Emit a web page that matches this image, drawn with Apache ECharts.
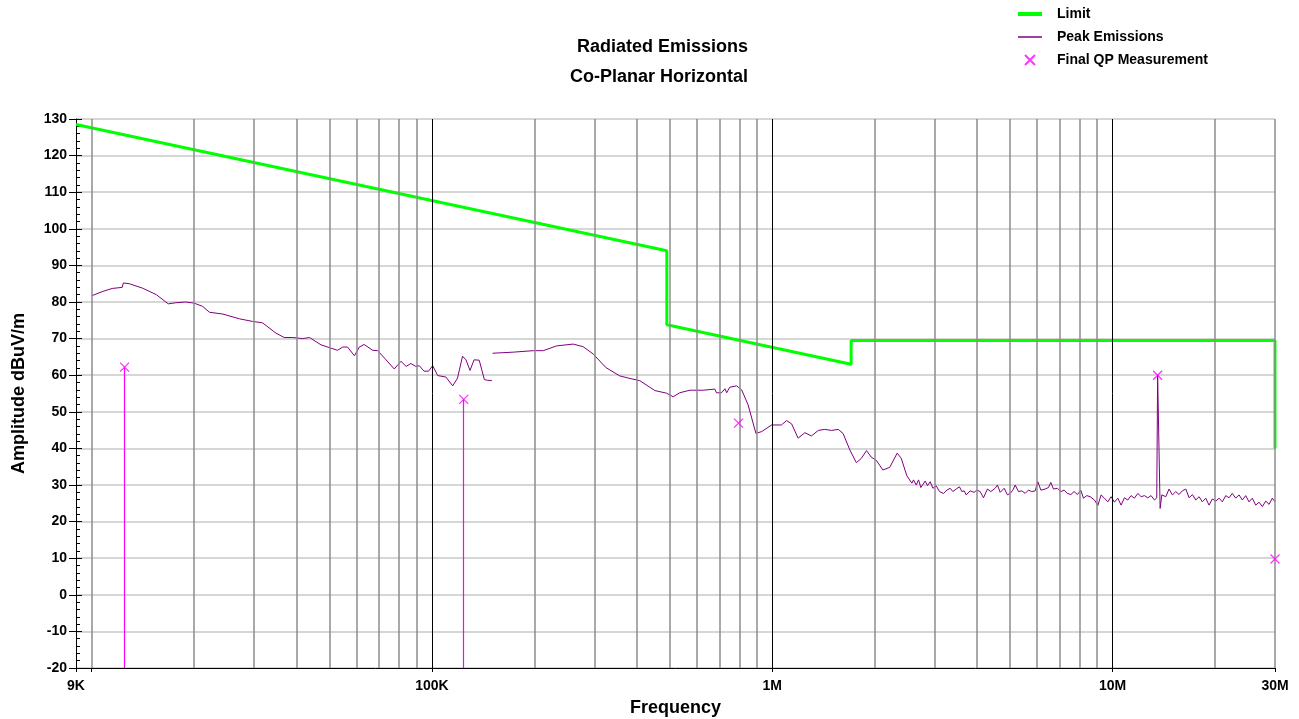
<!DOCTYPE html>
<html>
<head>
<meta charset="utf-8">
<title>Radiated Emissions</title>
<script src="https://cdn.jsdelivr.net/npm/echarts@6/dist/echarts.min.js"></script>
<style>
    html, body { margin: 0; padding: 0; background: #fff; }
    #chart { width: 1299px; height: 719px; }
</style>
</head>
<body>
<div id="chart"></div>
<script>
// frequencies in kHz, amplitudes in dBuV/m
const limitFreq = [9, 490, 490, 1705, 1705, 30000, 30000];
const limitAmp = [128.5, 94.0, 73.8, 63.0, 69.5, 69.5, 40.0];

// first scan 10K - 150K
const scan1 = [
    [10.0, 81.7], [10.8, 82.9], [11.5, 83.7], [12.3, 84.0], [12.4, 85.2], [12.9, 85.0], [14.1, 83.8],
    [15.5, 82.0], [16.8, 79.5], [17.7, 79.8], [18.9, 80.0], [20.0, 79.7], [21.2, 78.8], [22.2, 77.2],
    [24.3, 76.7], [27.2, 75.4], [29.7, 74.7], [31.8, 74.3], [34.8, 71.5], [36.8, 70.3], [39.0, 70.3],
    [41.7, 70.0], [43.7, 70.3], [47.2, 68.3], [50.5, 67.4], [52.8, 66.8], [54.7, 67.7], [56.5, 67.7],
    [59.2, 65.3], [61.2, 67.7], [63.2, 68.4], [67.0, 66.8], [69.3, 66.7], [73.3, 64.2], [77.5, 61.7],
    [81.1, 63.8], [84.0, 62.4], [86.7, 63.2], [89.7, 62.4], [91.8, 62.6], [94.8, 61.1], [97.7, 61.1],
    [100.5, 62.6], [104.0, 59.9], [109.9, 59.5], [115.1, 57.1], [118.9, 59.2], [123.0, 65.2], [125.9, 64.2],
    [129.4, 61.3], [133.0, 64.2], [137.7, 64.1], [142.6, 58.8], [145.9, 58.6], [150.0, 58.5]
];

// second scan 150K - 30M
const scan2 = [
    [150.7, 66.0], [173.4, 66.3], [198.4, 66.7], [212.3, 66.7], [232.3, 68.0], [260.0, 68.5], [278.0, 67.8],
    [297.8, 65.8], [324.3, 62.1], [356.5, 59.8], [381.9, 59.1], [408.3, 58.5], [451.9, 55.8], [488.7, 55.1],
    [511.7, 54.1], [534.6, 55.2], [572.8, 55.9], [626.6, 55.9], [677.6, 56.2], [685.5, 55.2], [709.6, 55.2],
    [726.1, 56.3], [734.5, 55.2], [749.9, 56.7], [785.2, 57.1], [812.8, 56.0], [849.2, 51.9], [895.4, 44.1],
    [931.1, 44.6], [995.4, 46.4], [1064, 46.4], [1102, 47.6], [1140, 46.7], [1191, 42.8], [1247, 44.3],
    [1303, 43.4], [1365, 44.9], [1426, 45.2], [1493, 44.9], [1563, 45.2], [1614, 44.1], [1690, 39.6],
    [1766, 36.1], [1828, 37.3], [1892, 39.4], [1954, 37.6], [2023, 36.7], [2113, 34.1], [2213, 34.8],
    [2328, 38.7], [2393, 37.3], [2486, 32.5],
    [2572, 30.5], [2600, 31.4], [2648, 30.0], [2690, 31.4], [2733, 29.3], [2814, 31.1], [2858, 29.8],
    [2911, 30.9], [2965, 29.1], [3031, 29.8], [3100, 28.2], [3185, 27.7], [3259, 28.6], [3333, 29.1],
    [3394, 28.2], [3470, 28.9], [3549, 29.5], [3607, 28.2], [3664, 28.4], [3714, 27.3], [3815, 28.4],
    [3920, 28.0], [3992, 28.6], [4082, 28.2], [4174, 26.5], [4288, 28.9], [4387, 28.2], [4517, 29.1],
    [4588, 30.0], [4673, 28.0], [4801, 29.1], [4910, 27.3], [5000, 27.7], [5092, 28.6], [5172, 30.0],
    [5289, 28.2], [5412, 28.4], [5534, 27.7], [5659, 28.6], [5790, 28.2], [5921, 28.4], [6030, 30.9],
    [6153, 28.6], [6335, 28.9], [6478, 29.3], [6584, 30.7], [6701, 28.9], [6884, 29.1], [7045, 28.2],
    [7204, 28.6], [7367, 27.7], [7538, 27.4], [7707, 28.2], [7881, 27.4], [8064, 28.6], [8208, 26.4],
    [8399, 27.1], [8589, 26.8], [8844, 25.9], [9050, 24.4], [9252, 27.3], [9461, 26.4], [9681, 25.4],
    [9899, 26.8], [10120, 25.3], [10360, 26.4], [10590, 24.5], [10830, 26.5], [11080, 25.9], [11330, 27.1],
    [11590, 26.4], [11860, 27.7], [12130, 26.8], [12400, 27.1], [12690, 26.5], [12970, 27.1], [13270, 25.9],
    [13480, 26.5], [13560, 60.0], [13790, 23.6], [13950, 27.3], [14330, 26.8], [14650, 28.9], [14980, 27.3],
    [15330, 28.2], [15680, 27.4], [16030, 28.4], [16410, 28.9], [16780, 26.5], [17160, 27.4], [17550, 25.9],
    [17950, 26.8], [18350, 25.4], [18780, 26.4], [19200, 24.5], [19640, 26.2], [20090, 25.6], [20550, 26.4],
    [21010, 25.4], [21500, 27.1], [21980, 26.5], [22470, 27.7], [23000, 26.4], [23520, 27.3], [24050, 25.9],
    [24610, 27.1], [25160, 25.4], [25730, 26.4], [26330, 24.5], [26930, 25.3], [27540, 24.1], [28180, 25.6],
    [28820, 24.7], [29470, 26.4], [30000, 25.4]
];

const qpFreq = [12.5, 124, 796, 13560, 30000];
const qpAmp = [62.2, 53.4, 46.9, 60.0, 9.8];
const qpStemIdx = [0, 1];

const xLabelValues = [9, 100, 1000, 10000, 30000];
const xLabelText = ['9K', '100K', '1M', '10M', '30M'];

const yMin = -20;
const yMax = 130;

// vertical grid: 2..9 of each decade grey, decades black
const decadeGrid = [100, 1000, 10000];
const minorGrid = [];
[10, 100, 1000, 10000].forEach(function (d) {
    for (let m = 1; m <= 9; m++) {
        const v = m * d;
        if (v > 30000 || decadeGrid.indexOf(v) >= 0) continue;
        minorGrid.push(v);
    }
});

const font = 'Arial, "Liberation Sans", sans-serif';
const chart = echarts.init(document.getElementById('chart'));

const option = {
    animation: false,
    backgroundColor: '#fff',
    title: [
        {
            text: 'Radiated Emissions', left: 572, top: 33,
            textStyle: {fontFamily: font, fontSize: 18, fontWeight: 'bold', color: '#000'}
        },
        {
            text: 'Co-Planar Horizontal', left: 565, top: 63,
            textStyle: {fontFamily: font, fontSize: 18, fontWeight: 'bold', color: '#000'}
        }
    ],
    legend: {
        orient: 'vertical',
        left: 1011,
        top: 2,
        itemWidth: 24,
        itemHeight: 10,
        itemGap: 9,
        textStyle: {fontFamily: font, fontSize: 14, fontWeight: 'bold', color: '#000', padding: [0, 0, 0, 10]},
        data: [
            {name: 'Limit', itemStyle: {opacity: 0}, lineStyle: {width: 4}},
            {name: 'Peak Emissions', itemStyle: {opacity: 0}, lineStyle: {width: 1.5}},
            {name: 'Final QP Measurement'}
        ]
    },
    grid: {left: 76, right: 24, top: 119, bottom: 51, containLabel: false, outerBoundsMode: 'none'},
    xAxis: {
        type: 'log',
        logBase: 10,
        min: 9,
        max: 30000,
        name: 'Frequency',
        nameLocation: 'middle',
        nameGap: 31,
        nameTextStyle: {fontFamily: font, fontSize: 18, fontWeight: 'bold', color: '#000'},
        axisLine: {onZero: false, lineStyle: {color: '#000', width: 1}},
        axisTick: {show: true, length: 4, lineStyle: {color: '#000'}},
        axisLabel: {
            margin: 11,
            showMinLabel: true,
            showMaxLabel: true,
            fontFamily: font, fontSize: 14, fontWeight: 'bold', color: '#000',
            formatter: function (v) {
                for (let i = 0; i < xLabelValues.length; i++) {
                    if (Math.abs(xLabelValues[i] - v) / xLabelValues[i] < 1e-6) return xLabelText[i];
                }
                return '';
            }
        },
        splitLine: {show: false}
    },
    yAxis: [
        {
            type: 'value',
            min: yMin,
            max: yMax,
            interval: 10,
            position: 'left',
            name: 'Amplitude dBuV/m',
            nameLocation: 'middle',
            nameGap: 48,
            nameTextStyle: {fontFamily: font, fontSize: 18, fontWeight: 'bold', color: '#000'},
            axisLine: {show: true, onZero: false, lineStyle: {color: '#000', width: 1}},
            axisTick: {show: true, length: 7, lineStyle: {color: '#000'}},
            axisLabel: {margin: 9, fontFamily: font, fontSize: 14, fontWeight: 'bold', color: '#000'},
            splitLine: {show: true, lineStyle: {color: '#d6d6d6', width: 2}}
        },
        {
            type: 'value',
            min: yMin,
            max: yMax,
            interval: 10,
            position: 'left',
            axisLine: {show: false, onZero: false},
            axisTick: {show: true, inside: true, length: 6, lineStyle: {color: '#000'}},
            minorTick: {show: true, splitNumber: 5, length: 4, lineStyle: {color: '#000'}},
            axisLabel: {show: false},
            splitLine: {show: false}
        }
    ],
    series: [
        {
            name: 'grid',
            type: 'line',
            data: [],
            z: 1,
            silent: true,
            markLine: {
                silent: true,
                symbol: ['none', 'none'],
                label: {show: false},
                animation: false,
                data: minorGrid.map(function (v) {
                    return {xAxis: v, lineStyle: {color: '#8c8c8c', width: 1.5, type: 'solid'}};
                }).concat(decadeGrid.map(function (v) {
                    return {xAxis: v, lineStyle: {color: '#000', width: 1, type: 'solid'}};
                }))
            }
        },
        {
            name: 'Limit',
            type: 'line',
            z: 4,
            symbol: 'none',
            lineStyle: {color: '#00ff00', width: 3},
            itemStyle: {color: '#00ff00'},
            data: limitFreq.map(function (f, i) { return [f, limitAmp[i]]; })
        },
        {
            name: 'Peak Emissions',
            type: 'line',
            z: 3,
            symbol: 'none',
            lineStyle: {color: '#800080', width: 1},
            itemStyle: {color: '#800080'},
            data: scan1
        },
        {
            name: 'Peak Emissions',
            type: 'line',
            z: 3,
            symbol: 'none',
            lineStyle: {color: '#800080', width: 1},
            itemStyle: {color: '#800080'},
            data: scan2
        },
        {
            name: 'Final QP Measurement',
            type: 'scatter',
            z: 5,
            symbol: 'path://M0,0L10,10M10,0L0,10',
            symbolSize: 9,
            symbolKeepAspect: true,
            itemStyle: {color: 'rgba(0,0,0,0)', borderColor: '#ff00ff', borderWidth: 1.3},
            data: qpFreq.map(function (f, i) { return [f, qpAmp[i]]; }),
            markLine: {
                silent: true,
                symbol: ['none', 'none'],
                label: {show: false},
                lineStyle: {color: '#ff00ff', width: 1.2, type: 'solid'},
                data: qpStemIdx.map(function (i) {
                    return [{coord: [qpFreq[i], qpAmp[i]]}, {coord: [qpFreq[i], yMin]}];
                })
            }
        }
    ]
};

chart.setOption(option);
</script>
</body>
</html>
